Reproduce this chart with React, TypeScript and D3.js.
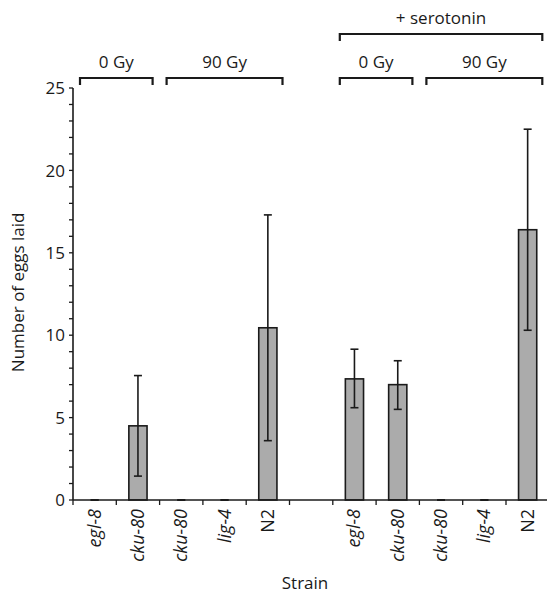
import React from "react"
import * as d3 from "d3"

const strains = ["egl-8", "cku-80", "cku-80", "lig-4", "N2", "", "egl-8", "cku-80", "cku-80", "lig-4", "N2"]
const italic = [true, true, true, true, false, false, true, true, true, true, false]
const eggs = [0, 4.5, 0, 0, 10.45, null, 7.35, 7.0, 0, 0, 16.4]
const errLow = [0, 1.45, 0, 0, 3.6, null, 5.6, 5.5, 0, 0, 10.3]
const errHigh = [0, 7.55, 0, 0, 17.3, null, 9.15, 8.45, 0, 0, 22.5]
const yTicks = [0, 5, 10, 15, 20, 25]

// brackets: [first slot, last slot, label, level]
const groups: [number, number, string, number][] = [
  [0, 1, "0 Gy", 0],
  [2, 4, "90 Gy", 0],
  [6, 7, "0 Gy", 0],
  [8, 10, "90 Gy", 0],
  [6, 10, "+ serotonin", 1],
]

export default function App() {
  const width = 547
  const height = 598
  const margin = { top: 88, left: 73, bottom: 98 }
  const plotH = height - margin.top - margin.bottom
  const slot = 43.3

  const x = d3
    .scaleBand<number>()
    .domain(d3.range(strains.length))
    .range([margin.left, margin.left + slot * strains.length])
    .paddingInner(0.58)
    .paddingOuter(0.29)

  const y = d3.scaleLinear().domain([0, 25]).range([margin.top + plotH, margin.top])
  const minor = d3.range(0, 26)
  const font = "'Open Sans', sans-serif"
  const ink = "#1a1a1a"
  const cx = (i: number) => x(i)! + x.bandwidth() / 2
  const slotLeft = (i: number) => margin.left + i * slot

  return (
    <svg width={width} height={height} style={{ position: "absolute", left: 0, top: 0 }} fontFamily={font}>
      <rect width={width} height={height} fill="#fff" />
      {/* bars */}
      {eggs.map((v, i) =>
        v == null || v === 0 ? null : (
          <rect
            key={"b" + i}
            x={x(i)}
            y={y(v)}
            width={x.bandwidth()}
            height={y(0) - y(v)}
            fill="#ababab"
            stroke={ink}
            strokeWidth={1.6}
          />
        )
      )}
      {/* error bars */}
      {eggs.map((v, i) =>
        v == null ? null : (
          <g key={"e" + i} stroke={ink} strokeWidth={1.6}>
            <line x1={cx(i)} x2={cx(i)} y1={y(errLow[i]!)} y2={y(errHigh[i]!)} />
            <line x1={cx(i) - 4} x2={cx(i) + 4} y1={y(errHigh[i]!)} y2={y(errHigh[i]!)} />
            <line x1={cx(i) - 4} x2={cx(i) + 4} y1={y(errLow[i]!)} y2={y(errLow[i]!)} />
          </g>
        )
      )}
      {/* y axis */}
      <line x1={margin.left} x2={margin.left} y1={y(0)} y2={y(25)} stroke={ink} strokeWidth={1.6} />
      {minor.map((t) => (
        <line key={"m" + t} x1={margin.left - 4} x2={margin.left} y1={y(t)} y2={y(t)} stroke={ink} strokeWidth={1.3} />
      ))}
      {yTicks.map((t) => (
        <text key={"t" + t} x={margin.left - 8} y={y(t)} dy="0.36em" textAnchor="end" fontSize={17} fill={ink}>
          {t}
        </text>
      ))}
      <text
        transform={`translate(24,${y(12.6)}) rotate(-90)`}
        textAnchor="middle"
        fontSize={17}
        fill={ink}
      >
        Number of eggs laid
      </text>
      {/* x axis */}
      <line x1={margin.left} x2={margin.left + slot * strains.length} y1={y(0)} y2={y(0)} stroke={ink} strokeWidth={1.6} />
      {d3.range(strains.length + 1).map((i) => (
        <line key={"xt" + i} x1={slotLeft(i)} x2={slotLeft(i)} y1={y(0)} y2={y(0) + 5} stroke={ink} strokeWidth={1.3} />
      ))}
      {strains.map((s, i) => (
        <text
          key={"xl" + i}
          transform={`translate(${cx(i) + 6},${y(0) + 9}) rotate(-90)`}
          textAnchor="end"
          fontSize={18}
          fontStyle={italic[i] ? "italic" : "normal"}
          fill={ink}
        >
          {s}
        </text>
      ))}
      <text x={305} y={589} textAnchor="middle" fontSize={17} fill={ink}>
        Strain
      </text>
      {/* brackets */}
      {groups.map(([a, b, label, level], i) => {
        const x0 = slotLeft(a) + 7
        const x1 = slotLeft(b + 1) - 7
        const yy = level === 0 ? 78 : 34
        return (
          <g key={"g" + i}>
            <path
              d={`M${x0},${yy + 7}V${yy}H${x1}V${yy + 7}`}
              fill="none"
              stroke={ink}
              strokeWidth={2.2}
            />
            <text x={(x0 + x1) / 2} y={yy - 10} textAnchor="middle" fontSize={17} fill={ink}>
              {label}
            </text>
          </g>
        )
      })}
    </svg>
  )
}
